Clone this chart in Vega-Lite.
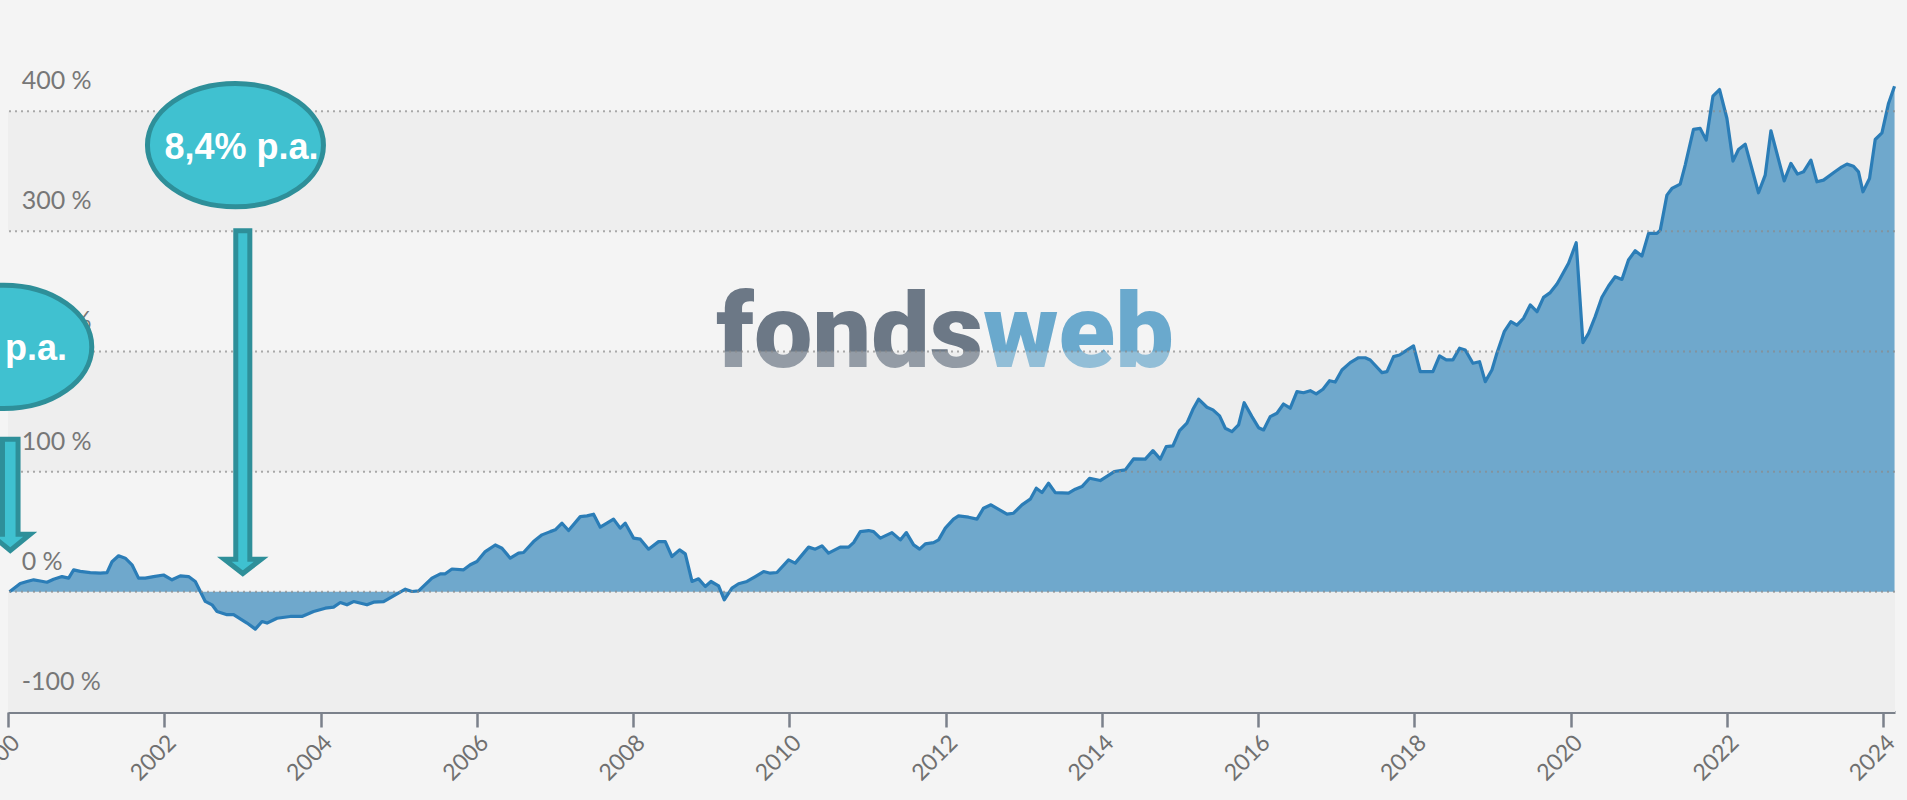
{
"$schema": "https://vega.github.io/schema/vega-lite/v6.json",
"width": 1887, "height": 709,
"autosize": {"type": "none"},
"padding": {"left": 8, "top": 3, "right": 12, "bottom": 88},
"background": "#f4f4f4",
"datasets": {
"perf": [{"t":2000.02,"v":0},{"t":2000.157,"v":7},{"t":2000.243,"v":8.6},{"t":2000.328,"v":10},{"t":2000.413,"v":9},{"t":2000.499,"v":8},{"t":2000.584,"v":10.5},{"t":2000.691,"v":12.7},{"t":2000.776,"v":11.4},{"t":2000.84,"v":18.3},{"t":2000.925,"v":17},{"t":2001.053,"v":16},{"t":2001.181,"v":15.5},{"t":2001.267,"v":16},{"t":2001.331,"v":25},{"t":2001.415,"v":30},{"t":2001.501,"v":28},{"t":2001.587,"v":22.5},{"t":2001.671,"v":11.4},{"t":2001.757,"v":11.4},{"t":2001.863,"v":12.7},{"t":2001.991,"v":14},{"t":2002.099,"v":10},{"t":2002.205,"v":13.3},{"t":2002.311,"v":12.7},{"t":2002.397,"v":8.6},{"t":2002.461,"v":0.3},{"t":2002.525,"v":-8},{"t":2002.611,"v":-10.8},{"t":2002.675,"v":-16.4},{"t":2002.803,"v":-19},{"t":2002.887,"v":-19},{"t":2003.059,"v":-26},{"t":2003.165,"v":-31},{"t":2003.251,"v":-24.7},{"t":2003.315,"v":-26},{"t":2003.443,"v":-22},{"t":2003.613,"v":-20.5},{"t":2003.762,"v":-20.5},{"t":2003.911,"v":-16.4},{"t":2004.061,"v":-13.6},{"t":2004.167,"v":-12.7},{"t":2004.253,"v":-8.9},{"t":2004.338,"v":-10.8},{"t":2004.423,"v":-8.1},{"t":2004.594,"v":-10.8},{"t":2004.679,"v":-8.6},{"t":2004.807,"v":-8.1},{"t":2004.935,"v":-3.3},{"t":2005.085,"v":2.2},{"t":2005.17,"v":0.3},{"t":2005.255,"v":0.8},{"t":2005.426,"v":11.4},{"t":2005.533,"v":15},{"t":2005.596,"v":15},{"t":2005.682,"v":19},{"t":2005.831,"v":18.3},{"t":2005.916,"v":22.5},{"t":2006.002,"v":25.2},{"t":2006.108,"v":33.5},{"t":2006.236,"v":39},{"t":2006.322,"v":36.3},{"t":2006.428,"v":28},{"t":2006.534,"v":32.2},{"t":2006.598,"v":32.7},{"t":2006.726,"v":41.8},{"t":2006.834,"v":47.4},{"t":2006.94,"v":50.1},{"t":2007.004,"v":51.6},{"t":2007.09,"v":57.1},{"t":2007.174,"v":51},{"t":2007.324,"v":62.6},{"t":2007.41,"v":63.2},{"t":2007.494,"v":64.6},{"t":2007.58,"v":53.8},{"t":2007.75,"v":60.5},{"t":2007.835,"v":53},{"t":2007.9,"v":57.1},{"t":2008.006,"v":44.7},{"t":2008.092,"v":43.8},{"t":2008.198,"v":35.5},{"t":2008.326,"v":41.8},{"t":2008.412,"v":41.8},{"t":2008.497,"v":29.4},{"t":2008.595,"v":34.9},{"t":2008.668,"v":31.6},{"t":2008.754,"v":8.6},{"t":2008.838,"v":10.8},{"t":2008.924,"v":4.4},{"t":2008.997,"v":8.6},{"t":2009.094,"v":5},{"t":2009.167,"v":-6.7},{"t":2009.265,"v":3.1},{"t":2009.35,"v":6.7},{"t":2009.457,"v":8.6},{"t":2009.564,"v":12.7},{"t":2009.67,"v":16.9},{"t":2009.756,"v":15.5},{"t":2009.841,"v":16.1},{"t":2009.99,"v":26.6},{"t":2010.075,"v":23.9},{"t":2010.246,"v":37.2},{"t":2010.331,"v":35.5},{"t":2010.417,"v":38.3},{"t":2010.501,"v":32.2},{"t":2010.651,"v":37.2},{"t":2010.758,"v":37.2},{"t":2010.822,"v":41},{"t":2010.908,"v":50.1},{"t":2011.014,"v":51},{"t":2011.078,"v":50.1},{"t":2011.164,"v":44.7},{"t":2011.313,"v":49.3},{"t":2011.42,"v":43.2},{"t":2011.497,"v":49.3},{"t":2011.59,"v":39.1},{"t":2011.667,"v":35.5},{"t":2011.74,"v":39.9},{"t":2011.846,"v":41},{"t":2011.91,"v":43.2},{"t":2011.996,"v":53},{"t":2012.101,"v":60.5},{"t":2012.165,"v":63.2},{"t":2012.293,"v":62.1},{"t":2012.401,"v":60.5},{"t":2012.485,"v":69.6},{"t":2012.58,"v":72.4},{"t":2012.785,"v":64.6},{"t":2012.869,"v":65.4},{"t":2012.977,"v":72.4},{"t":2013.083,"v":77.1},{"t":2013.16,"v":86.2},{"t":2013.233,"v":82.6},{"t":2013.317,"v":90.4},{"t":2013.403,"v":82.6},{"t":2013.573,"v":82.1},{"t":2013.659,"v":85.4},{"t":2013.745,"v":87.6},{"t":2013.842,"v":94.5},{"t":2013.979,"v":92.6},{"t":2014.158,"v":100.1},{"t":2014.299,"v":101.5},{"t":2014.405,"v":110.6},{"t":2014.555,"v":110.4},{"t":2014.653,"v":117.5},{"t":2014.747,"v":110.4},{"t":2014.823,"v":120.8},{"t":2014.909,"v":121.4},{"t":2014.994,"v":134.1},{"t":2015.088,"v":140.3},{"t":2015.165,"v":151.9},{"t":2015.237,"v":160.3},{"t":2015.344,"v":153.6},{"t":2015.421,"v":151.4},{"t":2015.506,"v":146.4},{"t":2015.579,"v":136.1},{"t":2015.664,"v":133.3},{"t":2015.749,"v":138.9},{"t":2015.821,"v":157.4},{"t":2015.92,"v":145.8},{"t":2016.005,"v":136.6},{"t":2016.069,"v":134.7},{"t":2016.154,"v":145.8},{"t":2016.24,"v":148.6},{"t":2016.324,"v":156.3},{"t":2016.41,"v":152.8},{"t":2016.496,"v":166.6},{"t":2016.58,"v":165.7},{"t":2016.666,"v":167.4},{"t":2016.743,"v":164.7},{"t":2016.829,"v":168.6},{"t":2016.913,"v":175.7},{"t":2016.986,"v":174.6},{"t":2017.072,"v":184.6},{"t":2017.178,"v":190.7},{"t":2017.284,"v":194.8},{"t":2017.37,"v":194.8},{"t":2017.434,"v":192.9},{"t":2017.584,"v":182.4},{"t":2017.648,"v":183.2},{"t":2017.733,"v":195.7},{"t":2017.809,"v":197.1},{"t":2017.904,"v":201.2},{"t":2017.988,"v":204.6},{"t":2018.074,"v":183.2},{"t":2018.236,"v":183.2},{"t":2018.321,"v":196.3},{"t":2018.407,"v":193},{"t":2018.492,"v":193},{"t":2018.577,"v":202.7},{"t":2018.65,"v":201.2},{"t":2018.748,"v":190.2},{"t":2018.833,"v":191.5},{"t":2018.906,"v":174.9},{"t":2018.991,"v":184.6},{"t":2019.055,"v":198.5},{"t":2019.149,"v":216.5},{"t":2019.234,"v":224.8},{"t":2019.311,"v":222},{"t":2019.396,"v":227.6},{"t":2019.482,"v":238.7},{"t":2019.568,"v":233.1},{"t":2019.652,"v":245},{"t":2019.738,"v":249},{"t":2019.824,"v":256.1},{"t":2019.866,"v":260.9},{"t":2019.972,"v":273.4},{"t":2020.07,"v":290.5},{"t":2020.156,"v":207.3},{"t":2020.228,"v":215.1},{"t":2020.313,"v":229},{"t":2020.399,"v":245.1},{"t":2020.484,"v":254.5},{"t":2020.569,"v":262.2},{"t":2020.655,"v":260},{"t":2020.739,"v":276.1},{"t":2020.825,"v":283.8},{"t":2020.911,"v":279.4},{"t":2020.996,"v":298.3},{"t":2021.103,"v":298.3},{"t":2021.146,"v":301},{"t":2021.231,"v":330.1},{"t":2021.295,"v":335.7},{"t":2021.401,"v":339.3},{"t":2021.465,"v":355.1},{"t":2021.571,"v":384.8},{"t":2021.657,"v":385.6},{"t":2021.734,"v":375.9},{"t":2021.82,"v":412.5},{"t":2021.904,"v":418},{"t":2021.999,"v":393.9},{"t":2022.076,"v":358.4},{"t":2022.147,"v":368.1},{"t":2022.233,"v":372.5},{"t":2022.403,"v":332.1},{"t":2022.489,"v":346.8},{"t":2022.562,"v":383.7},{"t":2022.732,"v":342},{"t":2022.818,"v":356.5},{"t":2022.902,"v":347.6},{"t":2022.979,"v":349.5},{"t":2023.074,"v":359.3},{"t":2023.151,"v":341.2},{"t":2023.235,"v":342.6},{"t":2023.363,"v":348.7},{"t":2023.471,"v":353.7},{"t":2023.535,"v":355.9},{"t":2023.619,"v":354.2},{"t":2023.683,"v":349.5},{"t":2023.74,"v":332.9},{"t":2023.824,"v":344},{"t":2023.897,"v":376.4},{"t":2023.983,"v":381.9},{"t":2024.067,"v":406.4},{"t":2024.144,"v":420.8}],
"bands": [{"lo":-100,"hi":0},{"lo":100,"hi":200},{"lo":300,"hi":400}],
"grid": [{"v":0},{"v":100},{"v":200},{"v":300},{"v":400}],
"ylabels": [{"v":-100,"label":"-100 %"},{"v":0,"label":"0 %"},{"v":100,"label":"100 %"},{"v":200,"label":"200 %"},{"v":300,"label":"300 %"},{"v":400,"label":"400 %"}]
},
"layer": [
{"data": {"name": "bands"}, "mark": {"type": "rect", "fill": "#eeeeee"},
 "encoding": {"y": {"field": "lo", "type": "quantitative", "scale": {"domain": [-100, 490], "nice": false, "zero": false}, "axis": null}, "y2": {"field": "hi"}}},
{"data": {"values": [{"t": 2012.478, "v": 187.3, "label": "fonds"}]},
 "mark": {"type": "text", "align": "right", "baseline": "alphabetic", "font": "Roboto", "fontWeight": 900, "fontSize": 104, "fill": "#6c7886"},
 "encoding": {"x": {"field": "t", "type": "quantitative", "scale": {"domain": [2000, 2024.15], "nice": false, "zero": false}, "axis": {"values": [2000,2002,2004,2006,2008,2010,2012,2014,2016,2018,2020,2022,2024], "format": "d", "title": null}},
  "y": {"field": "v", "type": "quantitative", "scale": {"domain": [-100, 490], "nice": false, "zero": false}, "axis": null}, "text": {"field": "label"}}},
{"data": {"values": [{"t": 2012.478, "v": 187.3, "label": "web"}]},
 "mark": {"type": "text", "align": "left", "baseline": "alphabetic", "font": "Roboto", "fontWeight": 900, "fontSize": 104, "fill": "#6aa9cd"},
 "encoding": {"x": {"field": "t", "type": "quantitative", "scale": {"domain": [2000, 2024.15], "nice": false, "zero": false}, "axis": {"values": [2000,2002,2004,2006,2008,2010,2012,2014,2016,2018,2020,2022,2024], "format": "d", "title": null}},
  "y": {"field": "v", "type": "quantitative", "scale": {"domain": [-100, 490], "nice": false, "zero": false}, "axis": null}, "text": {"field": "label"}}},
{"data": {"values": [{"lo": 100, "hi": 200}]}, "mark": {"type": "rect", "fill": "#eeeeee", "opacity": 0.3},
 "encoding": {"y": {"field": "lo", "type": "quantitative", "scale": {"domain": [-100, 490], "nice": false, "zero": false}, "axis": null}, "y2": {"field": "hi"}}},
{"data": {"name": "perf"}, "mark": {"type": "area", "fill": "#6fa8cc", "opacity": 1},
 "encoding": {"x": {"field": "t", "type": "quantitative", "scale": {"domain": [2000, 2024.15], "nice": false, "zero": false}, "axis": {"values": [2000,2002,2004,2006,2008,2010,2012,2014,2016,2018,2020,2022,2024], "format": "d", "title": null}},
  "y": {"field": "v", "type": "quantitative", "scale": {"domain": [-100, 490], "nice": false, "zero": false}, "axis": null}, "y2": {"datum": 0}}},
{"data": {"name": "perf"}, "mark": {"type": "line", "stroke": "#2b7db7", "strokeWidth": 3.2, "strokeJoin": "round"},
 "encoding": {"x": {"field": "t", "type": "quantitative", "scale": {"domain": [2000, 2024.15], "nice": false, "zero": false}, "axis": {"values": [2000,2002,2004,2006,2008,2010,2012,2014,2016,2018,2020,2022,2024], "format": "d", "title": null}},
  "y": {"field": "v", "type": "quantitative", "scale": {"domain": [-100, 490], "nice": false, "zero": false}, "axis": null}}},
{"data": {"name": "grid"}, "mark": {"type": "rule", "stroke": "#8a8a8a", "strokeWidth": 2, "strokeDash": [2, 4], "opacity": 0.7},
 "encoding": {"y": {"field": "v", "type": "quantitative", "scale": {"domain": [-100, 490], "nice": false, "zero": false}, "axis": null}}},
{"data": {"name": "ylabels"}, "mark": {"type": "text", "align": "left", "baseline": "alphabetic", "dy": -22, "font": "Lato", "fontSize": 25, "fill": "#777777"},
 "encoding": {"x": {"datum": 2000.175, "type": "quantitative", "scale": {"domain": [2000, 2024.15], "nice": false, "zero": false}, "axis": {"values": [2000,2002,2004,2006,2008,2010,2012,2014,2016,2018,2020,2022,2024], "format": "d", "title": null}},
  "y": {"field": "v", "type": "quantitative", "scale": {"domain": [-100, 490], "nice": false, "zero": false}, "axis": null}, "text": {"field": "label"}}},
{"data": {"values": [{"t": 2003.005, "v": 157.8}]},
 "mark": {"type": "point", "shape": "M-0.041,-1L0.041,-1L0.041,0.916L0.108,0.916L0,1L-0.108,0.916L-0.041,0.916Z", "size": 117443, "filled": true, "fill": "#3fc1d0", "stroke": "#2e8f99", "strokeWidth": 5, "opacity": 1},
 "encoding": {"x": {"field": "t", "type": "quantitative", "scale": {"domain": [2000, 2024.15], "nice": false, "zero": false}, "axis": {"values": [2000,2002,2004,2006,2008,2010,2012,2014,2016,2018,2020,2022,2024], "format": "d", "title": null}},
  "y": {"field": "v", "type": "quantitative", "scale": {"domain": [-100, 490], "nice": false, "zero": false}, "axis": null}}},
{"data": {"values": [{"t": 2000.029, "v": 80.7}]},
 "mark": {"type": "point", "shape": "M-0.14,-1L0.14,-1L0.14,0.707L0.359,0.707L0,1L-0.359,0.707L-0.14,0.707Z", "size": 12388, "filled": true, "fill": "#3fc1d0", "stroke": "#2e8f99", "strokeWidth": 5, "opacity": 1},
 "encoding": {"x": {"field": "t", "type": "quantitative", "scale": {"domain": [2000, 2024.15], "nice": false, "zero": false}, "axis": {"values": [2000,2002,2004,2006,2008,2010,2012,2014,2016,2018,2020,2022,2024], "format": "d", "title": null}},
  "y": {"field": "v", "type": "quantitative", "scale": {"domain": [-100, 490], "nice": false, "zero": false}, "axis": null}}},
{"data": {"values": [{"t": 2002.911, "v": 371.7}, {"t": 1999.946, "v": 203.8}]},
 "mark": {"type": "point", "shape": "M-1,0A1,0.701,0,1,0,1,0A1,0.701,0,1,0,-1,0Z", "size": 30976, "filled": true, "fill": "#40c1d0", "stroke": "#2e8f99", "strokeWidth": 5, "opacity": 1},
 "encoding": {"x": {"field": "t", "type": "quantitative", "scale": {"domain": [2000, 2024.15], "nice": false, "zero": false}, "axis": {"values": [2000,2002,2004,2006,2008,2010,2012,2014,2016,2018,2020,2022,2024], "format": "d", "title": null}},
  "y": {"field": "v", "type": "quantitative", "scale": {"domain": [-100, 490], "nice": false, "zero": false}, "axis": null}}},
{"data": {"values": [{"t": 2002.988, "v": 359.9, "label": "8,4% p.a."}]},
 "mark": {"type": "text", "align": "center", "baseline": "alphabetic", "font": "Liberation Sans", "fontWeight": "bold", "fontSize": 36, "fill": "#ffffff"},
 "encoding": {"x": {"field": "t", "type": "quantitative", "scale": {"domain": [2000, 2024.15], "nice": false, "zero": false}, "axis": {"values": [2000,2002,2004,2006,2008,2010,2012,2014,2016,2018,2020,2022,2024], "format": "d", "title": null}},
  "y": {"field": "v", "type": "quantitative", "scale": {"domain": [-100, 490], "nice": false, "zero": false}, "axis": null}, "text": {"field": "label"}}},
{"data": {"values": [{"t": 2000.755, "v": 192.9, "label": "p.a."}]},
 "mark": {"type": "text", "align": "right", "baseline": "alphabetic", "font": "Liberation Sans", "fontWeight": "bold", "fontSize": 36, "fill": "#ffffff"},
 "encoding": {"x": {"field": "t", "type": "quantitative", "scale": {"domain": [2000, 2024.15], "nice": false, "zero": false}, "axis": {"values": [2000,2002,2004,2006,2008,2010,2012,2014,2016,2018,2020,2022,2024], "format": "d", "title": null}},
  "y": {"field": "v", "type": "quantitative", "scale": {"domain": [-100, 490], "nice": false, "zero": false}, "axis": null}, "text": {"field": "label"}}}
],
"config": {
 "view": {"stroke": null},
 "axisY": {"disable": true},
 "axisX": {"grid": false, "labelAngle": -45, "labelFont": "Lato", "labelFontSize": 23, "labelColor": "#707070", "labelPadding": 4, "labelFlush": false, "labelOverlap": false, "labelBound": false, "tickSize": 15, "tickColor": "#7b818b", "tickWidth": 2.5, "domainColor": "#7b818b", "domainWidth": 3, "zindex": 1}
}
}
